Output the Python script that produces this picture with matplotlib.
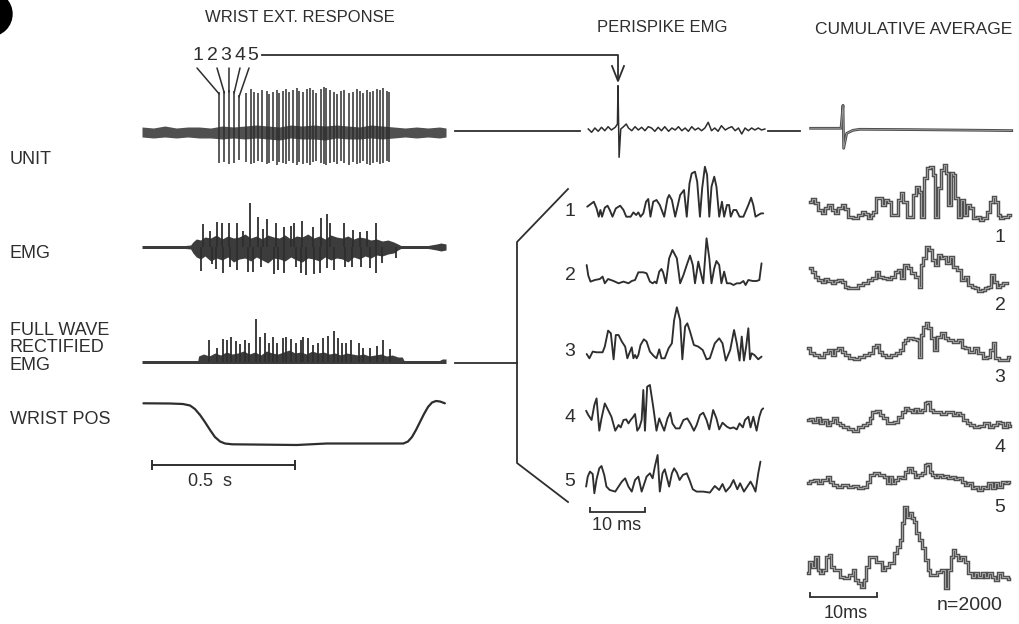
import matplotlib
matplotlib.use("Agg")
import matplotlib.pyplot as plt
from matplotlib.patches import Ellipse, ConnectionPatch

plt.rcParams['font.family'] = ['Liberation Sans', 'DejaVu Sans']

# ---------------- data ----------------
# left column (time in ms, amplitudes in arbitrary units)
unit_spike_ms = [270, 288, 304, 322, 339, 364, 380, 392, 405, 419, 436, 445, 459, 471, 480, 494,
                 503, 515, 529, 541, 550, 562, 576, 587, 598, 608, 626, 637, 645, 657, 671, 683,
                 696, 707, 724, 737, 751, 762, 773, 786, 797, 809, 821, 832, 843, 856, 865]
unit_spike_up = [40, 41, 42, 41, 37, 39, 43, 40, 39, 42, 41, 38, 40, 42, 39, 41, 43, 40, 42, 44,
                 41, 40, 43, 44, 42, 39, 43, 45, 44, 42, 40, 38, 41, 42, 39, 40, 43, 41, 39, 42,
                 40, 41, 43, 42, 44, 41, 40]
unit_spike_down = [31, 30, 32, 31, 28, 30, 32, 31, 29, 30, 32, 31, 29, 33, 30, 31, 32, 29, 31, 33,
                   30, 32, 31, 33, 30, 29, 31, 32, 33, 31, 30, 32, 29, 31, 33, 30, 32, 31, 29, 32,
                   33, 31, 30, 32, 31, 29, 30]
unit_band_ms = [0, 40, 80, 120, 160, 200, 240, 280, 320, 360, 400, 440, 480, 520, 560, 600, 640,
                680, 720, 760, 800, 840, 880, 920, 960, 1000, 1040, 1063]
unit_band_hi = [5, 4, 6, 4, 5, 5, 4, 6, 5, 6, 7, 6, 5, 7, 6, 7, 6, 7, 6, 5, 7, 6, 5, 4, 5, 4, 5, 4]
unit_band_lo = [-5, -6, -5, -6, -5, -6, -6, -7, -6, -7, -6, -7, -8, -6, -7, -7, -8, -6, -7, -7,
                -6, -7, -6, -5, -6, -5, -6, -5]

emg_env_ms = [0, 150, 170, 178, 190, 205, 220, 240, 260, 280, 300, 320, 340, 360, 380, 400, 420,
              440, 460, 480, 500, 520, 540, 560, 580, 600, 620, 640, 660, 680, 700, 720, 740, 760,
              780, 800, 820, 840, 860, 880, 895, 905, 1000, 1030, 1045, 1063]
emg_env_hi = [1.5, 1.5, 2, 5, 8, 7, 10, 9, 12, 8, 11, 9, 10, 13, 9, 11, 8, 12, 10, 9, 12, 8, 11,
              10, 13, 9, 11, 8, 12, 10, 9, 11, 8, 10, 9, 7, 8, 6, 7, 5, 3, 1.5, 1.5, 3, 4, 3]
emg_env_lo = [-1.5, -1.5, -2, -6, -10, -12, -9, -14, -11, -13, -10, -15, -12, -11, -14, -10, -13,
              -16, -11, -12, -14, -10, -13, -15, -11, -12, -14, -10, -13, -11, -12, -15, -10, -12,
              -9, -11, -8, -9, -7, -6, -3, -1.5, -1.5, -3, -4, -3]
emg_up_ms = [212, 238, 263, 279, 305, 333, 354, 378, 407, 424, 438, 467, 498, 521, 533, 560,
             597, 625, 648, 657, 706, 737, 762, 788, 818]
emg_up_amp = [22.7, 16.3, 24.7, 24.3, 23.7, 24.3, 16.3, 44.3, 29.7, 17.7, 27.7, 24.3, 20.3, 21.3,
              24.3, 26, 19.7, 28.7, 33, 23.7, 24.3, 17, 15.3, 16.3, 24.3]
emg_dn_ms = [206, 244, 259, 284, 308, 333, 372, 387, 416, 463, 474, 497, 538, 556, 572, 602,
             622, 646, 671, 710, 733, 765, 797, 818, 840, 888]
emg_dn_amp = [23.7, 17, 22.3, 26.3, 20.3, 23, 24.7, 25, 19.7, 27, 23, 25.7, 20.3, 25.7, 28, 27,
              25.7, 21.3, 23, 20.3, 20.3, 20.3, 21.3, 26.3, 16.3, 11.3]

rect_env_ms = [0, 195, 198, 215, 235, 255, 275, 295, 315, 335, 355, 375, 395, 415, 435, 455, 475,
               495, 515, 535, 555, 575, 595, 615, 635, 655, 675, 695, 715, 735, 755, 775, 795,
               815, 835, 855, 875, 895, 910, 916, 1040, 1050, 1063]
rect_env_hi = [1.5, 1.5, 6, 8, 6, 9, 7, 10, 8, 9, 11, 8, 10, 7, 11, 9, 8, 10, 12, 9, 10, 8, 11,
               9, 10, 8, 9, 7, 9, 8, 7, 8, 6, 7, 8, 6, 7, 5, 5, 1.5, 1.5, 3, 3]
rect_spike_ms = [234, 263, 284, 298, 311, 328, 343, 360, 373, 399, 413, 430, 445, 459, 473, 492,
                 503, 521, 538, 555, 564, 581, 599, 616, 632, 649, 671, 686, 700, 713, 730, 759,
                 774, 797, 823, 844, 867]
rect_spike_amp = [22, 13.7, 23, 22, 24.7, 21.3, 18, 22, 18.7, 42.7, 24.7, 28.7, 18.7, 25.3, 18.7,
                  23.7, 25.3, 22.7, 18.7, 22, 24.7, 23.7, 17, 18.7, 23.7, 26, 31.3, 23.7, 18.7,
                  18.7, 22, 18.7, 13.7, 13.7, 16, 22, 12.7]

wrist_ms = [5, 98, 143, 168, 185, 203, 220, 238, 255, 273, 290, 315, 541, 646, 914, 930, 944,
            958, 972, 986, 1000, 1014, 1028, 1042, 1059]
wrist_pos = [41.7, 41.5, 41, 39.5, 36, 30, 23, 15, 8, 3.5, 1.5, 0.7, 0, 1.5, 1.5, 3.5, 8, 15,
             23, 31, 38, 42.5, 44, 43.5, 41.7]
scale_left_ms = 500

# perispike EMG (ms relative to unit spike)
peri_unit_ms = [-5.4, -4.8, -4.2, -3.6, -3.0, -2.4, -1.8, -1.2, -0.5, -0.1, 0.0, 0.2, 0.5, 1.0,
                1.5, 1.9, 2.5, 3.1, 3.7, 4.3, 4.9, 5.5, 6.1, 6.7, 7.3, 7.9, 8.5, 9.2, 9.8, 10.4,
                11.0, 11.6, 12.2, 12.8, 13.4, 14.0, 14.6, 15.2, 15.8, 16.4, 17.0, 17.6, 18.2,
                18.8, 19.5, 20.1, 20.7, 21.3, 21.9, 22.5, 23.1, 23.7, 24.3, 24.9, 25.5, 26.1, 26.7]
peri_unit_amp = [1, -2.3, 2, -1.3, 2.7, -0.7, 3.3, 0, 2.7, 6, 44.3, -27.3, 1, 3.3, 6, 2, -0.7,
                 3.3, 0, 2.7, -0.7, 3.3, 2, -1.3, 2.7, -0.7, 3.3, -1.3, 2, 0, 3.3, -0.7, 2, -1.3,
                 3.3, 0, 2, -0.7, 2, 7.7, -0.7, 2, -1.3, 4.3, 0, 2, 3.3, -0.7, 2, -4, 2, -0.7, 2,
                 0, 2, 0, 1]
peri1_ms = [-5.6, -4.8, -4.4, -3.9, -3.5, -3.2, -2.9, -2.4, -1.9, -1.5, -1.0, -0.4, 0.4, 1.0,
            1.5, 2.3, 2.8, 3.3, 3.7, 4.1, 4.6, 5.1, 5.5, 5.9, 6.4, 7.0, 7.6, 8.4, 9.0, 9.3, 9.8,
            10.4, 11.3, 12.0, 12.5, 13.0, 13.4, 14.0, 14.4, 14.9, 15.3, 15.8, 16.2, 16.6, 17.0,
            17.5, 17.9, 18.4, 18.9, 19.3, 19.8, 20.2, 20.5, 21.0, 21.5, 22.1, 22.8, 23.7, 24.2,
            24.6, 25.0, 25.5, 26.0, 26.4]
peri1_amp = [10, 13.3, 15, 8.3, 0, 6.7, 0, 9, 11, 6.7, 0, 8.3, 11, 6.7, 0, 0, 4.3, 1.7, 4.3, 0,
             3.3, 15, 17.7, 0, 15, 16.7, 11.7, 0, 18.3, 21.7, 16.7, 0, 21.7, 26.7, 0, 33.3, 43.3,
             45, 35, 0, 28.3, 50, 41.7, 0, 30, 40, 30, 0, 15, 0, 11.7, 11.7, 0, 6.7, 6.7, 0, 0,
             11.7, 19, 11.7, 0, 1.7, 3.3, 3.3]
peri2_ms = [-5.7, -5.4, -5.0, -4.2, -3.3, -2.8, -2.4, -1.8, -0.8, 0.1, 1.0, 1.9, 2.5, 3.1, 3.7,
            4.6, 5.2, 5.8, 6.3, 6.7, 7.0, 7.5, 7.9, 8.2, 8.7, 9.3, 9.9, 10.7, 11.3, 11.9, 12.5,
            13.1, 13.6, 14.0, 14.6, 15.0, 15.5, 16.1, 16.6, 17.0, 17.5, 17.9, 18.4, 18.8, 19.3,
            19.8, 20.4, 21.0, 21.6, 22.2, 22.8, 23.2, 23.7, 24.5, 25.2, 25.7, 26.1]
peri2_amp = [18.3, 7.7, 1.7, 3.3, 4.3, 6.7, 0, 4.3, 2.3, 0, 1.7, 0, 2.3, 3.3, 11, 11, 10, 1.7, 0,
             1.7, 0, 11.7, 14.3, 11, 0, 25, 33.3, 25, 0, 8.3, 18.3, 27.7, 18.3, 0, 21.7, 11.7, 0,
             45, 25, 0, 15, 22.3, 18.3, 0, 11.7, 0, 0, -1.7, 0, 0, 2.3, -1.7, 3.3, 2.3, 2.3, 3.3,
             20]
peri3_ms = [-5.7, -5.2, -4.6, -3.9, -2.8, -2.4, -1.8, -1.3, -0.8, -0.4, 0.1, 0.7, 1.3, 1.7,
            2.1, 2.5, 2.8, 3.1, 3.4, 3.7, 4.1, 4.7, 5.2, 5.8, 6.5, 7.0, 7.5, 7.9, 8.5, 9.2, 9.8,
            10.2, 10.7, 11.3, 11.7, 12.2, 12.6, 13.1, 13.8, 14.6, 15.4, 16.1, 16.7, 17.6, 18.4,
            19.0, 19.6, 20.4, 21.1, 21.6, 22.1, 22.5, 22.9, 23.3, 23.7, 24.0, 24.3, 24.8, 25.5,
            26.1]
peri3_amp = [5.3, 1, 7.7, 7, 7, 12.7, 28.7, 26, 0, 24.3, 24.3, 17.7, 12.7, 1, 6.7, 12, 1, 4.3,
             1, 4.3, 14.3, 20, 17.7, 7.7, 3.3, 1, 10, 1, 1, 11, 16, 39, 52, 39, 0, 32.7, 36,
             27.7, 14.3, 12.7, 9.3, 0, 1, 16, 21, 16, -1.3, 9.3, 29.3, 16, -1.3, 22.7, -1.3,
             12.7, 31, 0, 6, 4.3, 0, 2.7]
peri4_ms = [-5.8, -5.4, -4.8, -4.3, -3.9, -3.4, -3.0, -2.4, -1.8, -1.2, -0.5, 0.1, 0.5, 1.0,
            1.5, 1.9, 2.3, 2.7, 3.1, 3.5, 3.9, 4.3, 4.6, 4.9, 5.3, 5.8, 6.4, 7.0, 7.5, 7.9, 8.4,
            9.0, 9.5, 9.9, 10.5, 11.2, 11.9, 12.6, 13.2, 13.8, 14.3, 14.9, 15.5, 16.1, 16.6,
            17.3, 17.9, 18.4, 19.0, 19.8, 20.4, 21.0, 21.6, 22.1, 22.7, 23.1, 23.7, 24.1, 24.6,
            25.2, 25.7, 26.1, 26.4]
peri4_amp = [20, 15.7, 10.7, 25.7, 32.3, 0, 12.3, 27.3, 20.7, 14, 0, 5.7, 3.3, 10.7, 11.3, 7.3,
             10.7, 13.3, 16.7, 0, 3.3, 10.7, 40.7, 0, 44, 45.7, 24, 0, 12.3, 6.7, 0, 12.3, 18,
             7.3, 2.3, 2.3, 10.7, 12.3, 6.7, 0, 5.7, 15.7, 18, 10.7, 1.3, 20.7, 12.3, 1.3, 8, 4,
             2.3, 3.3, 1.3, 7.3, 3.3, 10.7, 14, 3.3, 14, 0, 14, 20.7, 22.3]
peri5_ms = [-5.8, -5.5, -5.1, -4.6, -4.3, -3.9, -3.4, -3.0, -2.5, -2.1, -1.5, -0.5, 0.1, 0.7,
            1.3, 1.9, 2.5, 3.1, 3.7, 4.3, 4.7, 5.2, 5.8, 6.3, 6.7, 7.2, 7.6, 8.1, 8.5, 9.0, 9.3,
            9.8, 10.2, 10.7, 11.2, 11.8, 12.5, 13.0, 13.6, 14.3, 15.5, 16.7, 17.6, 18.4, 19.0,
            19.6, 20.4, 21.0, 21.7, 22.2, 22.9, 23.5, 24.1, 24.6, 25.0, 25.5, 25.9]
peri5_amp = [6.7, 16.7, 21.7, 19.3, 0, 14, 25, 27.3, 18.3, 6.7, 3.3, 1.7, 6.7, 11.7, 15, 6.7,
             1.7, 13.3, 16.7, 1.7, 8.3, 16.7, 20, 15, 26.7, 38.3, 1.7, 20, 24, 13.3, 6.7, 20, 25,
             20.7, 13.3, 18.3, 20, 13.3, 4, 1.7, 1.7, 0.7, 7.3, 3.3, 9.3, 1.7, 6.7, 13.3, 4, 10,
             1.7, 6.7, 11.7, 6.7, 1.7, 20, 31.7]
scale_peri_ms = 10

# cumulative averages (ms relative to unit spike)
cum_unit_ms = [-4.85, -0.3, 0.0, 0.1, 0.55, 1.5, 2.5, 10.0, 18.0, 25.3]
cum_unit_amp = [0, 0, 23, -20, -5, -2, -1, -1.3, -1.8, -2.3]
cum1_ms = [-4.95, -4.45, -3.95, -3.45, -2.85, -2.45, -1.95, -1.45, -0.95, -0.45, 0.05, 0.55,
           1.05, 1.8, 2.55, 3.05, 3.55, 3.95, 4.3, 4.8, 5.15, 5.65, 6.05, 6.45, 6.95, 7.45, 8.05,
           8.45, 8.8, 9.3, 9.8, 10.3, 10.8, 11.15, 11.55, 11.95, 12.45, 12.8, 13.3, 13.65, 14.05,
           14.55, 14.95, 15.3, 15.65, 15.95, 16.3, 16.65, 17.05, 17.45, 17.85, 18.3, 18.8, 19.3,
           19.8, 20.3, 20.8, 21.3, 21.8, 22.3, 22.55, 23.05, 23.4, 23.8, 24.3, 25.05]
cum1_amp = [16.7, 19.3, 15, 8.3, 5, 10, 13.3, 8.3, 5, 10, 13.3, 9.3, 1.7, 0, 3.3, 6, 4, 0.7, 3.3,
            6.7, 20, 20, 13.3, 18.3, 16.7, 3.3, 3.3, 18.3, 25, 16.7, 1.7, 1.7, 23.3, 31.7, 26.7,
            1.7, 40, 50, 51.7, 43.3, 1.7, 30, 48.3, 53.3, 45, 13.3, 45, 43.3, 20, 1.7, 18.3, 3.3,
            13.3, 10, 0, 1.7, -1.7, 0, 6.7, 16.7, 21.7, 16.7, 3.3, 0, 1.7, 3.3]
cum2_ms = [-4.95, -4.45, -3.95, -3.45, -2.95, -2.45, -1.95, -1.45, -0.95, -0.45, 0.05, 0.55,
           1.05, 1.8, 2.55, 3.3, 4.05, 4.65, 5.15, 5.65, 6.3, 6.95, 7.45, 8.05, 8.45, 8.8, 9.45,
           9.95, 10.55, 11.15, 11.55, 11.8, 12.15, 12.65, 13.15, 13.55, 14.05, 14.55, 14.95,
           15.3, 15.65, 16.3, 16.8, 17.45, 18.05, 18.55, 19.05, 19.55, 20.05, 20.55, 21.05,
           21.55, 22.05, 22.45, 22.8, 23.3, 23.8, 24.3, 24.65]
cum2_amp = [21.7, 18.3, 13.3, 10, 8.3, 11, 9, 6.7, 9, 10, 8.3, 3.3, 1.7, 1.7, 5, 6.7, 10, 12.3,
            18.3, 13.3, 11.7, 11, 13.3, 18.3, 20, 11.7, 25, 21.7, 16.7, 13.3, 3.3, 25, 31.7,
            43.3, 40, 30, 25, 35, 31.7, 33.3, 26.7, 33.3, 23.3, 20, 10, 13.3, 5, 3.3, 1.7, -1, 0,
            1.7, 3.3, 15, 8.3, 3.3, 5, 6.7, 6.7]
cum3_ms = [-5.2, -4.7, -3.95, -3.2, -2.45, -1.95, -1.45, -0.95, -0.45, 0.05, 0.55, 1.3, 2.05,
           2.8, 3.55, 4.3, 4.8, 5.15, 5.55, 6.15, 6.8, 7.55, 8.3, 8.8, 9.15, 9.55, 10.05, 10.8,
           11.3, 11.55, 11.8, 12.3, 12.55, 13.05, 13.45, 13.8, 14.3, 15.05, 15.55, 16.05, 16.8,
           17.55, 18.05, 18.55, 19.3, 20.05, 20.55, 21.3, 21.8, 22.3, 22.6, 23.0, 23.75, 24.5,
           24.9]
cum3_amp = [12.7, 7.7, 6, 4.3, 7.7, 11, 6, 11, 12.7, 9.3, 6, 2.7, 1.7, 4.3, 6, 7.7, 14.3, 16,
            9.3, 6, 4.3, 6, 7.7, 11, 17.7, 21, 22.7, 22, 21, 4.3, 26, 34.3, 38.3, 32.7, 22.7, 11,
            24.3, 27.7, 22.7, 21, 19.3, 21, 14.3, 12.7, 9.3, 12.7, 7.7, 2.7, 4.3, 11, 17.7, 2.7,
            1, 1, 4.3]
cum4_ms = [-5.2, -4.7, -4.2, -3.7, -3.2, -2.7, -2.2, -1.7, -1.2, -0.7, -0.2, 0.3, 1.05, 1.8,
           2.55, 3.3, 3.95, 4.15, 4.55, 5.3, 5.8, 6.3, 6.8, 7.3, 7.95, 8.55, 9.05, 9.55, 10.05,
           10.55, 11.05, 11.55, 12.05, 12.45, 12.8, 13.3, 13.8, 14.3, 15.05, 15.8, 16.3, 16.8,
           17.3, 17.8, 18.3, 18.8, 19.3, 20.05, 20.8, 21.55, 22.3, 22.8, 23.3, 23.8, 24.3, 24.8,
           25.05]
cum4_amp = [10.7, 11.3, 9, 12.3, 7.3, 10.7, 5.7, 9, 12.3, 7.3, 5.7, 3.3, 1.3, 0, 4, 5.7, 7.3,
            12.3, 19, 20, 15.7, 12.3, 8, 7.3, 9, 14, 19, 22.3, 20.7, 19, 21.3, 19, 20.7, 27.3,
            29, 20.7, 19, 19, 16.7, 19, 19, 15.7, 17.3, 15.7, 10.7, 7.3, 5.7, 3.3, 4.7, 7.3, 3.3,
            5.7, 9, 7.3, 3.3, 7.3, 4.7]
cum5_ms = [-5.2, -4.7, -3.95, -3.45, -2.7, -2.2, -1.7, -1.2, -0.45, 0.3, 1.05, 1.8, 2.55, 3.3,
           3.8, 4.3, 5.05, 5.8, 6.45, 6.8, 7.15, 7.55, 8.05, 8.55, 9.05, 9.45, 10.05, 10.55,
           11.05, 11.55, 12.05, 12.45, 12.8, 13.15, 13.55, 14.05, 14.55, 15.05, 15.55, 16.05,
           16.55, 17.05, 17.55, 18.05, 18.55, 19.05, 19.55, 20.05, 20.55, 21.05, 21.55, 22.05,
           22.55, 23.05, 23.55, 24.05, 24.55, 24.95]
cum5_amp = [7.3, 9.3, 10, 7.3, 10, 13.3, 8.3, 5, 3.3, 5, 3.3, 4, 1.7, 3.3, 8.3, 15, 16.7, 15,
            13.3, 6.7, 12.7, 6.7, 10, 13.3, 11.7, 18.3, 21.7, 18.3, 13.3, 15, 16.7, 25, 26, 18.3,
            15, 13.3, 15, 13.3, 14, 11.7, 12.7, 10.7, 11.7, 8.3, 5, 6.7, 1.7, 3.3, 0, 3.3, 1.7,
            6.7, 1.7, 6.7, 3.3, 8.3, 6.7, 8.3]
cum_all_ms = [-5.2, -4.95, -4.45, -3.95, -3.55, -3.2, -2.7, -2.35, -1.95, -1.55, -1.2, -0.7,
              -0.2, 0.55, 1.3, 1.65, 2.05, 2.55, 2.95, 3.3, 3.65, 4.05, 4.65, 5.15, 5.55, 6.05,
              6.55, 7.3, 7.95, 8.3, 8.65, 9.05, 9.3, 9.8, 10.15, 10.55, 10.8, 11.15, 11.55,
              12.05, 12.55, 12.8, 13.3, 13.8, 14.3, 15.05, 15.55, 16.05, 16.3, 16.65, 17.05,
              17.55, 17.95, 18.55, 19.05, 19.55, 20.05, 20.55, 21.05, 21.55, 22.05, 22.55,
              23.05, 23.55, 24.05, 24.55, 24.95]
cum_all_amp = [15, 26.7, 21.7, 31.7, 18.3, 15, 18.3, 31.7, 33.3, 21.7, 18.3, 18.3, 11.7, 10,
               13.3, 18.3, 8.3, 5, 1.7, 8.3, 21.7, 31.7, 31.7, 26.7, 26.7, 18.3, 21.7, 25, 35,
               41.7, 48.3, 65, 81.7, 71.7, 75, 70, 66.7, 55, 48.3, 40, 28.3, 18.3, 13.3, 13.3,
               16.7, 18.3, 0, 18.3, 31.7, 38.3, 33.3, 28.3, 31.7, 26.7, 15, 11.7, 15, 11.7, 15,
               11, 15, 11.7, 8.3, 15, 11.7, 11, 9]
scale_cum_ms = 10
n_trials = 2000

titles = ["WRIST EXT. RESPONSE", "PERISPIKE EMG", "CUMULATIVE AVERAGE"]
row_labels = ["UNIT", "EMG", "FULL WAVE\nRECTIFIED\nEMG", "WRIST POS"]
burst_labels = ["1", "2", "3", "4", "5"]

# ---------------- layout helpers ----------------
W, H = 1020, 624
fig = plt.figure(figsize=(W / 100, H / 100), dpi=100)
fig.patch.set_facecolor("white")

ov = fig.add_axes([0, 0, 1, 1])
ov.set_xlim(0, W)
ov.set_ylim(H, 0)
ov.axis("off")

INK = "#2e2e2e"


def trace_axes(x_zero, px_per_unit, t0, t1, y_base, up=70, down=70):
    x0 = x_zero + px_per_unit * t0
    x1 = x_zero + px_per_unit * t1
    ax = fig.add_axes([x0 / W, 1 - (y_base + down) / H, (x1 - x0) / W, (up + down) / H])
    ax.set_xlim(t0, t1)
    ax.set_ylim(-down, up)
    ax.axis("off")
    return ax


# left column: 0.286 px per ms, t=0 at x=142
LX0, LPX = 142, 0.286
ax_unit = trace_axes(LX0, LPX, 0, 1063, 132)
ax_unit.fill_between(unit_band_ms, unit_band_lo, unit_band_hi, color="#505050", lw=0)
ax_unit.vlines(unit_spike_ms, [-d for d in unit_spike_down], unit_spike_up, color=INK, lw=1.1)

ax_emg = trace_axes(LX0, LPX, 0, 1063, 247)
ax_emg.fill_between(emg_env_ms, emg_env_lo, emg_env_hi, color="#3c3c3c", lw=0)
ax_emg.vlines(emg_up_ms, 0, emg_up_amp, color=INK, lw=1.3)
ax_emg.vlines(emg_dn_ms, [-a for a in emg_dn_amp], 0, color=INK, lw=1.3)

ax_rect = trace_axes(LX0, LPX, 0, 1063, 362)
ax_rect.fill_between(rect_env_ms, [-1.5] * len(rect_env_ms), rect_env_hi, color="#3c3c3c", lw=0)
ax_rect.vlines(rect_spike_ms, 0, rect_spike_amp, color=INK, lw=1.3)

ax_wr = trace_axes(LX0, LPX, 0, 1063, 445)
ax_wr.plot(wrist_ms, wrist_pos, color=INK, lw=1.6, solid_capstyle="round", solid_joinstyle="round")
sb0 = 35
ax_wr.plot([sb0, sb0 + scale_left_ms], [-20, -20], color=INK, lw=1.4, clip_on=False)
ax_wr.vlines([sb0, sb0 + scale_left_ms], -25, -15, color=INK, lw=1.4, clip_on=False)

# perispike column: 5.5 px per ms, t=0 at x=618
PX0, PPX = 618, 5.5
ax_pu = trace_axes(PX0, PPX, -6.5, 27.5, 130)
ax_pu.plot(peri_unit_ms, peri_unit_amp, color=INK, lw=1.1)
peri_sets = [(peri1_ms, peri1_amp, 216.7), (peri2_ms, peri2_amp, 283.3),
             (peri3_ms, peri3_amp, 359.3), (peri4_ms, peri4_amp, 430.7),
             (peri5_ms, peri5_amp, 493.3)]
peri_axes = []
for tms, amp, yb in peri_sets:
    a = trace_axes(PX0, PPX, -6.5, 27.5, yb)
    a.plot(tms, amp, color=INK, lw=1.35, solid_joinstyle="round", solid_capstyle="round")
    peri_axes.append(a)
ax_p5 = peri_axes[-1]
ax_p5.plot([-5.1, -5.1 + scale_peri_ms], [-18.7, -18.7], color=INK, lw=1.3, clip_on=False)
ax_p5.vlines([-5.1, -5.1 + scale_peri_ms], -18.7, -13.5, color=INK, lw=1.3, clip_on=False)

# cumulative average column: 6.67 px per ms, t=0 at x=843
CX0, CPX = 843, 6.67


def cum_plot(ax, t, a, lw_out=2.5):
    ax.plot(t, a, drawstyle="steps-mid", color="#4e4e4e", lw=lw_out, solid_joinstyle="miter")
    ax.plot(t, a, drawstyle="steps-mid", color="#a0a0a0", lw=0.8, solid_joinstyle="miter")


ax_cu = trace_axes(CX0, CPX, -6, 26, 128.3)
ax_cu.plot(cum_unit_ms, cum_unit_amp, color="#4e4e4e", lw=2.0)
ax_cu.plot(cum_unit_ms, cum_unit_amp, color="#a0a0a0", lw=0.6)
cum_sets = [(cum1_ms, cum1_amp, 218.3), (cum2_ms, cum2_amp, 290), (cum3_ms, cum3_amp, 361),
            (cum4_ms, cum4_amp, 430.7), (cum5_ms, cum5_amp, 490), (cum_all_ms, cum_all_amp, 588.3)]
cum_axes = []
for tms, amp, yb in cum_sets:
    a = trace_axes(CX0, CPX, -6, 26, yb, up=90)
    cum_plot(a, tms, amp)
    cum_axes.append(a)
ax_ca = cum_axes[-1]
ax_ca.plot([-4.95, -4.95 + scale_cum_ms], [-8.4, -8.4], color=INK, lw=1.3, clip_on=False)
ax_ca.vlines([-4.95, -4.95 + scale_cum_ms], -8.4, -3.5, color=INK, lw=1.3, clip_on=False)

# ---------------- annotations ----------------
ov.add_patch(Ellipse((-10, 14), 44, 44, color="black"))

fs = 12
ov.text(300, 18, titles[0], ha="center", va="center", fontsize=fs, color=INK)
ov.text(662, 28, titles[1], ha="center", va="center", fontsize=fs, color=INK)
ov.text(914, 30, titles[2], ha="center", va="center", fontsize=12.5, color=INK)

ov.text(10, 160, row_labels[0], ha="left", va="center", fontsize=13, color=INK)
ov.text(10, 253, row_labels[1], ha="left", va="center", fontsize=13, color=INK)
ov.text(10, 348, row_labels[2], ha="left", va="center", fontsize=13, color=INK, linespacing=1.02)
ov.text(10, 420, row_labels[3], ha="left", va="center", fontsize=13, color=INK)

ov.text(210, 482, "0.5  s", ha="center", va="center", fontsize=13, color=INK)
ov.text(617, 526, "10 ms", ha="center", va="center", fontsize=13, color=INK)
ov.text(846, 613, "10ms", ha="center", va="center", fontsize=13, color=INK)
ov.text(970, 606, f"n={n_trials}", ha="center", va="center", fontsize=14, color=INK)

# numerals over the first five unit spikes
num_x = [198, 212, 226, 240, 253]
line_x = [197, 217, 229, 240, 249]
for i, lab in enumerate(burst_labels):
    ov.text(num_x[i], 56, lab, ha="center", va="center", fontsize=14, color=INK)
    con = ConnectionPatch(xyA=(line_x[i], 68), coordsA=ov.transData,
                          xyB=(unit_spike_ms[i], unit_spike_up[i] - 2), coordsB=ax_unit.transData,
                          color=INK, lw=1.1)
    fig.add_artist(con)

# arrow from "5" to perispike spike
ov.plot([262, 618, 618], [55, 55, 80], color=INK, lw=1.3)
ov.plot([612, 618, 624], [66, 81, 66], color=INK, lw=1.3)

# connectors
ov.plot([455, 580], [131, 131], color=INK, lw=1.3)
ov.plot([768, 800], [131, 131], color=INK, lw=1.3)
ov.plot([455, 517], [363, 363], color=INK, lw=1.3)
ov.plot([568, 517, 517, 568], [189, 242, 463, 502], color=INK, lw=1.3)

peri_lab_y = [211, 275, 352, 418, 482]
for lab, y in zip(burst_labels, peri_lab_y):
    ov.text(570, y, lab, ha="center", va="center", fontsize=14, color=INK)
cum_lab_y = [237, 305, 377, 447, 508]
for lab, y in zip(burst_labels, cum_lab_y):
    ov.text(1000, y, lab, ha="center", va="center", fontsize=14, color=INK)

fig.savefig("out.png", dpi=100, facecolor="white")
